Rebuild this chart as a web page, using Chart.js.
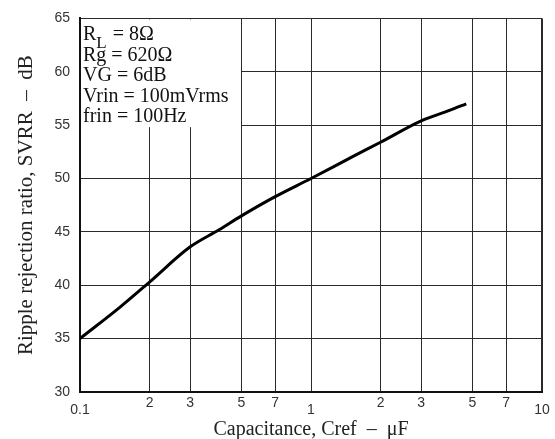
<!DOCTYPE html>
<html>
<head>
<meta charset="utf-8">
<script src="https://cdn.jsdelivr.net/npm/chart.js@4"></script>
<style>
  html, body { margin: 0; padding: 0; background: #fff; }
  canvas { display: block; }
</style>
</head>
<body>
<canvas id="c" width="555" height="439"></canvas>
<script>
// ---- data ----
const capacitance = [0.1, 0.15, 0.2, 0.3, 0.4, 0.5, 0.7, 1, 1.5, 2, 3, 4, 4.7];
const svrr        = [35.0, 38.0, 40.3, 43.6, 45.2, 46.5, 48.3, 50.0, 52.0, 53.4, 55.4, 56.4, 57.0];
const xTickValues = [0.1, 0.2, 0.3, 0.5, 0.7, 1, 2, 3, 5, 7, 10];
const xTickLabels = ['0.1', '2', '3', '5', '7', '1', '2', '3', '5', '7', '10'];
const decadeTicks = ['0.1', '1', '10'];
const yTicks      = [30, 35, 40, 45, 50, 55, 60, 65];
const xTitle = 'Capacitance, Cref  \u2013  \u03bcF';
const yTitle = 'Ripple rejection ratio, SVRR  \u2013  dB';
const noteLines = [
  { main: 'R', sub: 'L', rest: ' = 8\u03a9' },
  { main: 'Rg = 620\u03a9' },
  { main: 'VG = 6dB' },
  { main: 'Vrin = 100mVrms' },
  { main: 'frin = 100Hz' }
];

const SANS = '"Liberation Sans", Arial, sans-serif';
const SERIF = '"Liberation Serif", "Times New Roman", serif';

const notePlugin = {
  id: 'note',
  beforeDatasetsDraw(chart) {
    const { ctx, chartArea, scales } = chart;
    const xR = scales.x.getPixelForValue(0.5);
    const yB = scales.y.getPixelForValue(55);
    ctx.save();
    ctx.fillStyle = '#fff';
    ctx.fillRect(chartArea.left + 1, chartArea.top + 1, xR - chartArea.left - 1.5, yB - chartArea.top + 1);
    ctx.fillStyle = '#111';
    ctx.textBaseline = 'alphabetic';
    ctx.textAlign = 'left';
    const x0 = chartArea.left + 3;
    let base = chartArea.top + 22;
    noteLines.forEach((ln) => {
      ctx.font = '20px ' + SERIF;
      let x = x0;
      ctx.fillText(ln.main, x, base);
      x += ctx.measureText(ln.main).width;
      if (ln.sub) {
        ctx.font = '17px ' + SERIF;
        ctx.fillText(ln.sub, x, base + 8);
        x += ctx.measureText(ln.sub).width;
        ctx.font = '20px ' + SERIF;
        ctx.fillText(ln.rest, x + 1, base);
      }
      base += 20.4;
    });
    ctx.restore();
  }
};

new Chart(document.getElementById('c'), {
  type: 'scatter',
  data: {
    datasets: [{
      data: capacitance.map((c, i) => ({ x: c, y: svrr[i] })),
      showLine: true,
      borderColor: '#000',
      borderWidth: 3,
      pointRadius: 0,
      cubicInterpolationMode: 'monotone',
      fill: false
    }]
  },
  options: {
    responsive: false,
    animation: false,
    events: [],
    layout: { padding: { left: 0, right: 13, top: 8, bottom: 0 } },
    plugins: { legend: { display: false }, tooltip: { enabled: false } },
    scales: {
      x: {
        type: 'logarithmic',
        min: 0.1,
        max: 10,
        afterBuildTicks: (s) => { s.ticks = xTickValues.map(v => ({ value: v })); },
        afterFit: (s) => { s.height = 47; },
        grid: {
          color: '#2a2a2a',
          lineWidth: (ctx) => (ctx.index === xTickValues.length - 1 ? 2 : 1),
          drawTicks: false
        },
        border: { display: true, color: '#111', width: 2 },
        ticks: {
          autoSkip: false,
          maxRotation: 0,
          padding: 3,
          color: '#333',
          font: (ctx) => ({
            family: SANS,
            size: 14,
            lineHeight: decadeTicks.includes(xTickLabels[ctx.index]) ? 2.1 : 1.2
          }),
          callback: (v, i) => xTickLabels[i]
        },
        title: {
          display: true,
          text: xTitle,
          color: '#222',
          font: { family: SERIF, size: 20, lineHeight: 0.9 },
          padding: { top: 0, bottom: 0 }
        }
      },
      y: {
        min: 30,
        max: 65,
        afterBuildTicks: (s) => { s.ticks = yTicks.map(v => ({ value: v })); },
        afterFit: (s) => { s.width = 80; },
        grid: {
          color: '#2a2a2a',
          lineWidth: 1,
          drawTicks: false
        },
        border: { display: true, color: '#111', width: 2 },
        ticks: {
          padding: 10,
          color: '#333',
          font: { family: SERIF === '' ? SANS : SANS, size: 14 }
        },
        title: {
          display: true,
          text: yTitle,
          color: '#222',
          font: { family: SERIF, size: 21 },
          padding: { top: 14, bottom: 0 }
        }
      }
    }
  },
  plugins: [notePlugin]
});
</script>
</body>
</html>
